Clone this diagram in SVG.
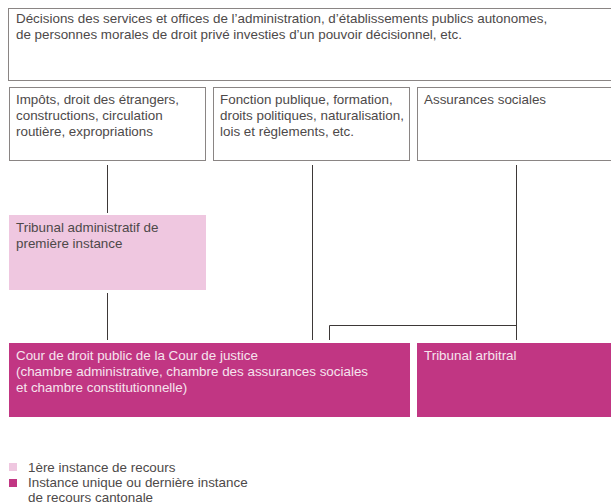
<svg xmlns="http://www.w3.org/2000/svg" width="611" height="504" viewBox="0 0 611 504">
<style>
  .box { fill: #ffffff; stroke: #8a8584; stroke-width: 1; }
  .light { fill: #efc7e0; }
  .dark { fill: #c13683; }
  .t { font-family: "Liberation Sans", Arial, sans-serif; font-size: 13.4px; fill: #4d4949; }
  .w { font-family: "Liberation Sans", Arial, sans-serif; font-size: 13.4px; fill: #f6e4ee; }
  .conn { stroke: #3d3837; stroke-width: 1; fill: none; }
</style>
<rect width="611" height="504" fill="#ffffff"/>
<g id="decisions">
  <rect class="box" x="8.5" y="8.5" width="610" height="72"/>
  <text class="t" x="16" y="23">Décisions des services et offices de l’administration, d’établissements publics autonomes,</text>
  <text class="t" x="16" y="39">de personnes morales de droit privé investies d’un pouvoir décisionnel, etc.</text>
</g>
<g id="impots">
  <rect class="box" x="9.5" y="87.5" width="196" height="73"/>
  <text class="t" x="16" y="104">Impôts, droit des étrangers,</text>
  <text class="t" x="16" y="120">constructions, circulation</text>
  <text class="t" x="16" y="136">routière, expropriations</text>
</g>
<g id="fonction">
  <rect class="box" x="213.5" y="87.5" width="196" height="73"/>
  <text class="t" x="220" y="104">Fonction publique, formation,</text>
  <text class="t" x="220" y="120">droits politiques, naturalisation,</text>
  <text class="t" x="220" y="136">lois et règlements, etc.</text>
</g>
<g id="assurances">
  <rect class="box" x="417.5" y="87.5" width="200" height="73"/>
  <text class="t" x="424" y="104">Assurances sociales</text>
</g>
<g id="tribunal-admin">
  <rect class="light" x="9" y="215" width="197" height="75"/>
  <text class="t" x="16" y="232">Tribunal administratif de</text>
  <text class="t" x="16" y="248">première instance</text>
</g>
<g id="cour">
  <rect class="dark" x="9" y="343" width="401" height="74"/>
  <text class="w" x="16" y="360">Cour de droit public de la Cour de justice</text>
  <text class="w" x="16" y="376">(chambre administrative, chambre des assurances sociales</text>
  <text class="w" x="16" y="392">et chambre constitutionnelle)</text>
</g>
<g id="tribunal-arbitral">
  <rect class="dark" x="417" y="343" width="200" height="74"/>
  <text class="w" x="424" y="360">Tribunal arbitral</text>
</g>
<g id="connectors">
  <line class="conn" x1="107.5" y1="165" x2="107.5" y2="213"/>
  <line class="conn" x1="107.5" y1="293" x2="107.5" y2="340"/>
  <line class="conn" x1="312.5" y1="165" x2="312.5" y2="340"/>
  <line class="conn" x1="516.5" y1="165" x2="516.5" y2="340"/>
  <polyline class="conn" points="329.5,340 329.5,325.5 516.5,325.5"/>
</g>
<g id="legend">
  <rect class="light" x="9" y="463" width="8" height="8"/>
  <text class="t" x="28" y="472">1ère instance de recours</text>
  <rect class="dark" x="9" y="479" width="8" height="8"/>
  <text class="t" x="28" y="487">Instance unique ou dernière instance</text>
  <text class="t" x="28" y="502">de recours cantonale</text>
</g>
</svg>
